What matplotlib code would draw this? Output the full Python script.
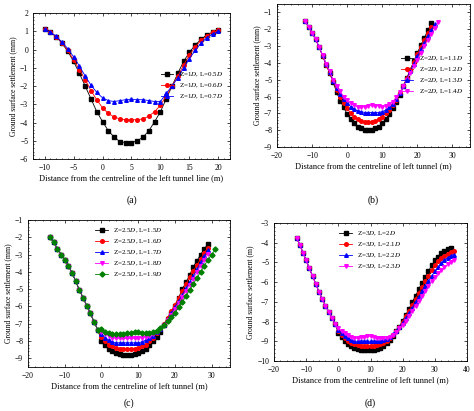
import numpy as np
import matplotlib
matplotlib.use("Agg")
import matplotlib.pyplot as plt

plt.rcParams['font.family'] = ['Liberation Serif', 'DejaVu Serif']
plt.rcParams['mathtext.fontset'] = 'stix'
plt.rcParams['font.size'] = 5.5

# panel (a): x starts at -10, step 1
a_x0 = -10
a_black = [1.1, 0.95, 0.7, 0.35, -0.1, -0.65, -1.3, -2.0, -2.7, -3.4, -3.95, -4.45, -4.8, -5.05, -5.1, -5.1,
           -5.0, -4.8, -4.45, -3.95, -3.4, -2.7, -2.0, -1.3, -0.65, -0.15, 0.25, 0.55, 0.8, 0.95, 1.05]
a_red = [1.1, 0.95, 0.7, 0.38, -0.05, -0.55, -1.1, -1.65, -2.25, -2.75, -3.2, -3.5, -3.7, -3.8, -3.85, -3.85,
         -3.85, -3.8, -3.65, -3.4, -3.05, -2.55, -2.0, -1.45, -0.85, -0.3, 0.15, 0.5, 0.75, 0.95, 1.05]
a_blue = [1.1, 0.95, 0.72, 0.4, 0.05, -0.4, -0.9, -1.45, -1.95, -2.35, -2.65, -2.8, -2.85, -2.8, -2.75, -2.72,
          -2.75, -2.75, -2.8, -2.85, -2.85, -2.4, -2.0, -1.55, -1.0, -0.5, -0.05, 0.35, 0.65, 0.85, 1.0]
a_labels = ["Z=1$D$, L=0.5$D$", "Z=1$D$, L=0.6$D$", "Z=1$D$, L=0.7$D$"]

# panel (b): x starts at -12
b_x0 = -12
b_black = [-1.5, -1.85, -2.2, -2.6, -3.05, -3.6, -4.1, -4.6, -5.15, -5.75, -6.25, -6.65, -7.05, -7.35, -7.6,
           -7.8, -7.9, -8.0, -8.0, -8.0, -7.9, -7.8, -7.6, -7.35, -7.05, -6.7, -6.3, -5.9, -5.4, -4.9, -4.4,
           -3.9, -3.4, -2.95, -2.5, -2.05, -1.65]
b_red = [-1.5, -1.85, -2.2, -2.6, -3.05, -3.6, -4.1, -4.6, -5.1, -5.6, -6.0, -6.4, -6.7, -7.0, -7.2, -7.35,
         -7.45, -7.5, -7.5, -7.5, -7.45, -7.35, -7.2, -7.0, -6.8, -6.5, -6.2, -5.8, -5.35, -4.9, -4.4, -3.95,
         -3.5, -3.05, -2.65, -2.25, -1.85]
b_blue = [-1.5, -1.85, -2.2, -2.6, -3.05, -3.55, -4.05, -4.55, -5.05, -5.5, -5.85, -6.15, -6.4, -6.6, -6.75,
          -6.85, -6.9, -6.95, -6.95, -6.95, -6.95, -6.95, -6.9, -6.8, -6.65, -6.45, -6.15, -5.8, -5.4, -4.95,
          -4.5, -4.05, -3.6, -3.2, -2.8, -2.4, -2.05, -1.7]
b_mag = [-1.5, -1.85, -2.2, -2.6, -3.05, -3.55, -4.05, -4.5, -5.0, -5.4, -5.7, -6.0, -6.2, -6.4, -6.5, -6.6,
         -6.65, -6.6, -6.55, -6.5, -6.55, -6.55, -6.6, -6.55, -6.45, -6.3, -6.05, -5.75, -5.4, -5.0, -4.6,
         -4.2, -3.8, -3.4, -3.0, -2.65, -2.3, -1.95, -1.55]
b_labels = ["Z=2$D$, L=1.1$D$", "Z=2$D$, L=1.2$D$", "Z=2$D$, L=1.3$D$", "Z=2$D$, L=1.4$D$"]

# panel (c): x starts at -14
c_x0 = -14
c_left = [-2.0, -2.3, -2.65, -3.0, -3.3, -3.65, -4.05, -4.55, -5.05, -5.5, -5.95, -6.4, -6.9, -7.35]
c_black = c_left + [-8.0, -8.25, -8.45, -8.6, -8.7, -8.75, -8.8, -8.8, -8.8, -8.75, -8.7, -8.6, -8.45, -8.25,
                    -8.0, -7.75, -7.45, -7.1, -6.75, -6.35, -5.95, -5.5, -5.0, -4.6, -4.2, -3.7, -3.35, -3.0,
                    -2.65, -2.4]
c_red = c_left + [-7.75, -8.0, -8.2, -8.3, -8.4, -8.45, -8.45, -8.45, -8.45, -8.45, -8.4, -8.3, -8.2, -8.0,
                  -7.8, -7.55, -7.3, -7.0, -6.65, -6.25, -5.9, -5.5, -5.1, -4.7, -4.3, -3.95, -3.6, -3.25,
                  -2.9, -2.6]
c_blue = c_left + [-7.6, -7.8, -7.95, -8.05, -8.1, -8.1, -8.1, -8.1, -8.1, -8.1, -8.1, -8.05, -7.95, -7.85,
                   -7.7, -7.5, -7.3, -7.05, -6.75, -6.4, -6.05, -5.7, -5.35, -4.95, -4.6, -4.25, -3.85, -3.45,
                   -3.1, -2.75]
c_mag = c_left + [-7.45, -7.6, -7.7, -7.8, -7.85, -7.85, -7.85, -7.85, -7.85, -7.85, -7.85, -7.8, -7.75, -7.7,
                  -7.6, -7.45, -7.3, -7.05, -6.8, -6.5, -6.15, -5.8, -5.45, -5.1, -4.75, -4.4, -4.0, -3.65,
                  -3.3, -2.95]
c_green = c_left + [-7.3, -7.45, -7.55, -7.6, -7.6, -7.6, -7.6, -7.55, -7.55, -7.5, -7.5, -7.55, -7.55, -7.55,
                    -7.5, -7.4, -7.25, -7.05, -6.85, -6.6, -6.35, -6.05, -5.75, -5.4, -5.05, -4.7, -4.35, -4.0,
                    -3.65, -3.3, -3.0, -2.7]
c_labels = ["Z=2.5$D$, L=1.5$D$", "Z=2.5$D$, L=1.6$D$", "Z=2.5$D$, L=1.7$D$", "Z=2.5$D$, L=1.8$D$",
            "Z=2.5$D$, L=1.9$D$"]

# panel (d): x starts at -13
d_x0 = -13
d_left = [-3.75, -4.1, -4.5, -4.9, -5.3, -5.7, -6.1, -6.5, -6.85, -7.2, -7.5, -7.8, -8.1]
d_black = d_left + [-8.6, -8.8, -9.0, -9.15, -9.25, -9.35, -9.4, -9.45, -9.45, -9.45, -9.45, -9.45, -9.4, -9.35,
                    -9.25, -9.1, -8.95, -8.75, -8.5, -8.25, -7.95, -7.65, -7.35, -7.0, -6.7, -6.35, -6.05, -5.75,
                    -5.45, -5.15, -4.9, -4.7, -4.5, -4.4, -4.3, -4.25]
d_red = d_left + [-8.5, -8.7, -8.85, -9.0, -9.1, -9.15, -9.2, -9.25, -9.25, -9.25, -9.25, -9.25, -9.2, -9.15,
                  -9.1, -9.0, -8.85, -8.7, -8.5, -8.25, -8.0, -7.7, -7.45, -7.15, -6.85, -6.55, -6.25, -5.95,
                  -5.7, -5.4, -5.15, -4.95, -4.8, -4.65, -4.55, -4.45, -4.4]
d_blue = d_left + [-8.45, -8.6, -8.75, -8.85, -8.95, -9.0, -9.0, -9.0, -9.0, -9.0, -9.0, -9.0, -9.0, -9.0,
                   -8.95, -8.9, -8.8, -8.65, -8.5, -8.3, -8.05, -7.8, -7.55, -7.3, -7.0, -6.75, -6.45, -6.2,
                   -5.95, -5.7, -5.45, -5.25, -5.05, -4.9, -4.75, -4.65, -4.6]
d_mag = d_left + [-8.35, -8.5, -8.6, -8.7, -8.8, -8.85, -8.85, -8.8, -8.8, -8.75, -8.75, -8.8, -8.85, -8.85,
                  -8.85, -8.85, -8.8, -8.7, -8.55, -8.35, -8.15, -7.95, -7.7, -7.45, -7.2, -6.95, -6.7, -6.45,
                  -6.2, -5.95, -5.75, -5.55, -5.4, -5.25, -5.1, -5.0, -4.9]
d_labels = ["Z=3$D$, L=2$D$", "Z=3$D$, L=2.1$D$", "Z=3$D$, L=2.2$D$", "Z=3$D$, L=2.3$D$"]

colors = ['black', 'red', 'blue', 'magenta', 'green']
markers = ['s', 'o', '^', 'v', 'D']

W, H = 474, 411
fig = plt.figure(figsize=(W / 100, H / 100), dpi=100)


def make_ax(l, r, t, b):
    return fig.add_axes([l / W, 1 - b / H, (r - l) / W, (b - t) / H])


def draw(ax, x0, series, labels, xlim, ylim, xticks, yticks, xlabel, ylabel, leg_loc, tag, tag_y):
    for i, (y, lab) in enumerate(zip(series, labels)):
        x = np.arange(x0, x0 + len(y))
        ax.plot(x, y, color=colors[i], marker=markers[i], ms=2.6, lw=0.6, label=lab)
    ax.set_xlim(*xlim)
    ax.set_ylim(*ylim)
    ax.set_xticks(xticks)
    ax.set_yticks(yticks)
    ax.minorticks_on()
    ax.tick_params(which='both', direction='in', top=True, right=True, labelsize=5.5, length=2, width=0.5)
    ax.tick_params(which='minor', length=1)
    for s in ax.spines.values():
        s.set_linewidth(0.6)
    ax.set_xlabel(xlabel, fontsize=6, labelpad=2)
    ax.set_ylabel(ylabel, fontsize=5.5, labelpad=2)
    ax.legend(loc=leg_loc, frameon=False, fontsize=5, handlelength=1.8, labelspacing=0.4, borderaxespad=0.6)
    fig.text((ax.get_position().x0 + ax.get_position().x1) / 2, 1 - tag_y / H, tag, ha='center', va='center',
             fontsize=7)


ax = make_ax(33, 230, 13, 159)
draw(ax, a_x0, [a_black, a_red, a_blue], a_labels, (-12, 22), (-6, 2), range(-10, 21, 5), range(-6, 3),
     "Distance from the centreline of the left tunnel line (m)", "Ground surface settlement (mm)",
     'center right', '(a)', 200)

ax = make_ax(277, 470, 4, 147)
draw(ax, b_x0, [b_black, b_red, b_blue, b_mag], b_labels, (-20, 35), (-9, -0.5), range(-20, 31, 10),
     range(-9, 0), "Distance from the centreline of left tunnel (m)", "Ground surface settlement (mm)",
     'center right', '(b)', 200)

ax = make_ax(28, 230, 220, 367)
draw(ax, c_x0, [c_black, c_red, c_blue, c_mag, c_green], c_labels, (-20, 35), (-9.5, -1), range(-20, 31, 10),
     range(-9, 0), "Distance from the centreline of left tunnel (m)", "Ground surface settlement (mm)",
     'upper center', '(c)', 403)

ax = make_ax(274, 467, 223, 361)
draw(ax, d_x0, [d_black, d_red, d_blue, d_mag], d_labels, (-20, 40), (-10, -3), range(-20, 41, 10),
     range(-10, -2), "Distance from the centreline of left tunnel (m)", "Ground surface settlement (m)",
     'upper center', '(d)', 403)

fig.savefig("out.png", dpi=100)
